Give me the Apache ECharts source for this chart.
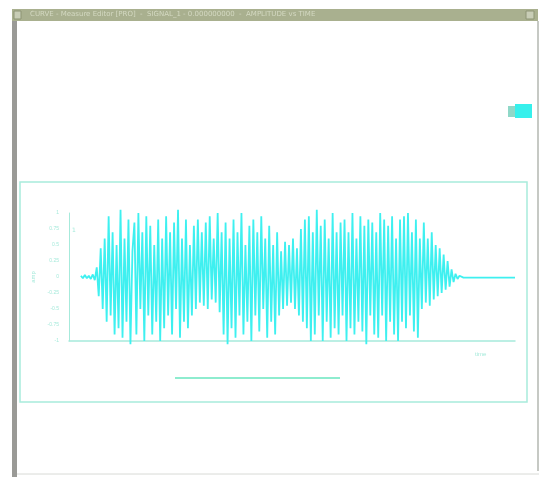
<!DOCTYPE html>
<html lang="en">
<head>
    <meta charset="UTF-8">
    <title>signal plot</title>
    <script src="https://cdn.jsdelivr.net/npm/echarts@6/dist/echarts.min.js"></script>
    <style type="text/css">
        html, body { margin: 0; padding: 0; background: #ffffff; }
        #main { width: 545px; height: 477px; }
    </style>
</head>
<body>
<div id="main"></div>
<script>
    // window caption (not readable in the source, kept faint)
    const caption = 'CURVE - Measure Editor [PRO]  -  SIGNAL_1 - 0.000000000  -  AMPLITUDE vs TIME';

    // y tick values
    const yTicks = [-1, -0.75, -0.5, -0.25, 0, 0.25, 0.5, 0.75, 1];

    // quiet lead-in before the burst
    const leadIn = [0.02, -0.02, 0.03, -0.02, 0.02, -0.03, 0.04, -0.05];

    // burst
    const burst = [
        0.15, -0.3, 0.45, -0.5, 0.6, -0.7,
        0.95, -0.6, 0.7, -0.9, 0.5, -0.8, 1.05, -0.95, 0.6, -0.7, 0.9, -1.05, 0.4,
        0.85, -0.9, 1.0, -0.5, 0.7, -1.0, 0.95, -0.6, 0.8, -0.9, 0.5, -0.7, 0.9, -1.0, 0.6,
        -0.8, 0.95, -0.6, 0.7, -0.9, 0.85, -0.5, 1.05, -0.95, 0.6, -0.7, 0.9, -0.8, 0.5, -0.6,
        0.8, -0.5, 0.9, -0.4, 0.7, -0.45, 0.85, -0.5, 0.95, -0.35, 0.6, -0.4, 1.0, -0.55, 0.7,
        -0.9, 0.85, -1.05, 0.6, -0.8, 0.9, -0.95, 0.7, -0.6, 1.0, -0.9, 0.5, -0.7, 0.8, -1.0,
        0.9, -0.6, 0.7, -0.85, 0.95, -0.5, 0.6, -0.95, 0.8, -0.7, 0.5, -0.9, 0.7, -0.6, 0.4,
        -0.5, 0.55, -0.45, 0.5, -0.4, 0.6, -0.5, 0.45, -0.6, 0.75, -0.7, 0.9, -0.8, 0.95, -1.0,
        0.7, -0.9, 1.05, -0.6, 0.8, -1.0, 0.9, -0.7, 0.6, -0.95, 1.0, -0.8, 0.7, -0.9, 0.85,
        -0.6, 0.9, -1.0, 0.7, -0.8, 1.0, -0.9, 0.6, -0.7, 0.95, -0.85, 0.8, -1.05, 0.9, -0.6,
        0.85, -0.9, 0.7, -0.95, 1.0, -0.6, 0.9, -1.0, 0.8, -0.7, 0.95, -0.9, 0.6, -1.0, 0.9,
        -0.7, 0.95, -0.8, 1.0, -0.6, 0.7, -0.85, 0.9, -0.95, 0.6, -0.5, 0.85, -0.4, 0.6, -0.45,
        0.7, -0.35, 0.5, -0.3, 0.45, -0.25, 0.35, -0.2, 0.25, -0.15, 0.12, -0.08, 0.05, -0.03, 0.02
    ];

    // quiet tail after the burst
    const tail = [
        0.01, -0.01, 0.01, -0.01, 0.01, -0.01, 0.01, -0.01, 0.01, -0.01,
        0.01, -0.01, 0.01, -0.01, 0.01, -0.01, 0.01, -0.01, 0.01, -0.01,
        0.01, -0.01, 0.01, -0.01, 0.01, -0.01, 0.01, -0.01
    ];

    const signal = leadIn.concat(burst, tail);
    const points = signal.map(function (v, i) { return [i, v]; });

    const mint = '#a6eadb';
    const cyan = '#3ef0f0';

    var myChart = echarts.init(document.getElementById('main'));

    var option = {
        backgroundColor: '#ffffff',
        animation: false,
        grid: {
            left: 69,
            right: 30,
            top: 213,
            bottom: 136
        },
        xAxis: {
            type: 'value',
            min: -6,
            max: signal.length - 1,
            name: 'time',
            nameLocation: 'end',
            nameGap: -40,
            nameTextStyle: { color: mint, fontSize: 6, verticalAlign: 'top', padding: [10, 0, 0, 0] },
            axisLine: { show: true, onZero: false, lineStyle: { color: mint, width: 1.5 } },
            axisTick: { show: false },
            axisLabel: { show: false },
            splitLine: { show: false }
        },
        yAxis: {
            type: 'value',
            min: -1,
            max: 1,
            interval: 0.25,
            name: 'amp',
            nameLocation: 'middle',
            nameGap: 24,
            nameTextStyle: { color: mint, fontSize: 6 },
            axisLine: { show: true, onZero: false, lineStyle: { color: mint, width: 1 } },
            axisTick: { show: false },
            axisLabel: {
                color: mint,
                fontSize: 5,
                margin: 10,
                formatter: function (v) {
                    return yTicks.indexOf(v) >= 0 ? String(v) : '';
                }
            },
            splitLine: { show: false }
        },
        series: [{
            type: 'line',
            data: points,
            showSymbol: false,
            clip: false,
            lineStyle: { color: cyan, width: 1.8 }
        }],
        graphic: [
            // title bar
            { type: 'rect', shape: { x: 12, y: 9, width: 526, height: 12 },
              style: { fill: '#a9b08f' } },
            { type: 'text', left: 30, top: 11,
              style: { text: caption, fill: '#d4d9c2', font: '7px "DejaVu Sans"' } },
            { type: 'rect', shape: { x: 14, y: 11, width: 7, height: 8 },
              style: { fill: '#c8cdb6', stroke: '#8d9475' } },
            { type: 'rect', shape: { x: 526, y: 11, width: 8, height: 8 },
              style: { fill: '#c8cdb6', stroke: '#8d9475' } },
            // window frame
            { type: 'rect', shape: { x: 12, y: 21, width: 5, height: 456 },
              style: { fill: '#9a9a96' } },
            { type: 'rect', shape: { x: 537, y: 21, width: 2, height: 450 },
              style: { fill: '#c6c9c4' } },
            { type: 'line', shape: { x1: 17, y1: 474, x2: 539, y2: 474 },
              style: { stroke: '#d8dad6', lineWidth: 1 } },
            // plot frame
            { type: 'rect', shape: { x: 20, y: 182, width: 507, height: 220 },
              style: { fill: 'none', stroke: '#a8ecdc', lineWidth: 1.5 } },
            // legend swatch top right
            { type: 'rect', shape: { x: 508, y: 106, width: 7, height: 11 },
              style: { fill: '#8fd8c8' } },
            { type: 'rect', shape: { x: 515, y: 104, width: 17, height: 14 },
              style: { fill: '#36f0ec' } },
            // legend line below the plot
            { type: 'line', shape: { x1: 175, y1: 378, x2: 340, y2: 378 },
              style: { stroke: '#8eeccf', lineWidth: 2 } },
            // small mark near top of the axis
            { type: 'text', left: 72, top: 227,
              style: { text: '1', fill: mint, font: '6px "DejaVu Sans"' } }
        ]
    };

    myChart.setOption(option);
</script>
</body>
</html>
